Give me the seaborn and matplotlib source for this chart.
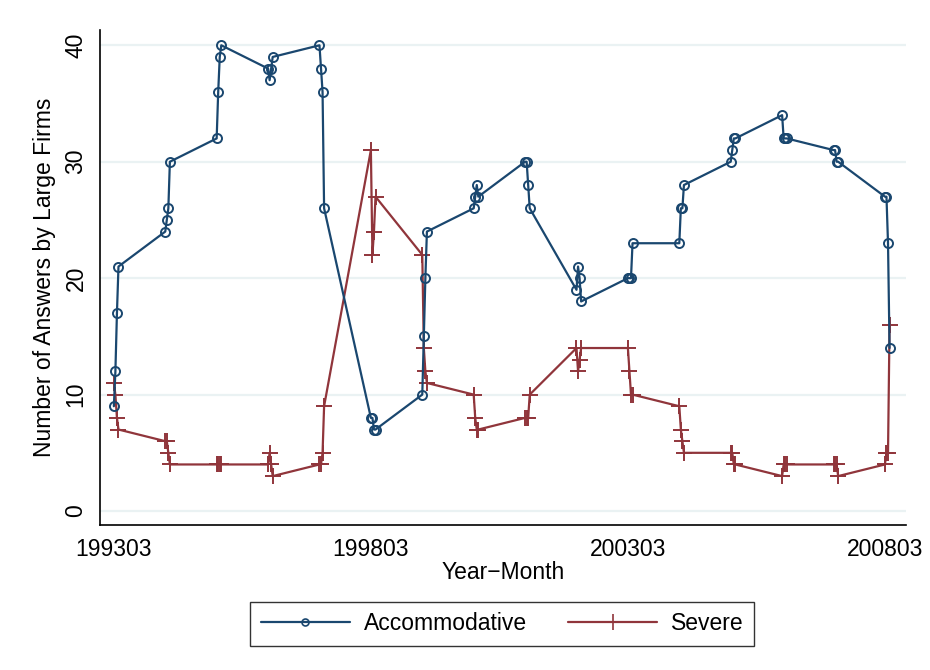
import numpy as np
import pandas as pd
import matplotlib
matplotlib.use('Agg')
import matplotlib.pyplot as plt
import seaborn as sns
from matplotlib.lines import Line2D

# survey months, quarterly 1993Q1 - 2008Q4 (yyyymm as plain numbers)
years = list(range(1993, 2009))
months = [3, 6, 9, 12]
yearmonth = [y * 100 + m for y in years for m in months]

accommodative = [9, 12, 17, 21,   24, 25, 26, 30,   32, 36, 39, 40,   38, 37, 38, 39,
                 40, 38, 36, 26,  8, 8, 7, 7,       10, 15, 20, 24,   26, 27, 28, 27,
                 30, 30, 28, 26,  19, 21, 20, 18,   20, 20, 20, 23,   23, 26, 26, 28,
                 30, 31, 32, 32,  34, 32, 32, 32,   31, 31, 30, 30,   27, 27, 23, 14]
severe = [11, 10, 8, 7,   6, 6, 5, 4,     4, 4, 4, 4,     4, 5, 4, 3,
          4, 4, 5, 9,     31, 22, 24, 27, 22, 14, 12, 11, 10, 8, 7, 7,
          8, 8, 8, 10,    14, 12, 13, 14, 14, 12, 10, 10, 9, 7, 6, 5,
          5, 5, 4, 4,     3, 4, 4, 4,     4, 4, 4, 3,     4, 5, 5, 16]

xticks = [199303, 199803, 200303, 200803]
yticks = [0, 10, 20, 30, 40]

df = pd.DataFrame({'ym': yearmonth, 'Accommodative': accommodative, 'Severe': severe})

sns.set_style('white')
plt.rcParams['font.family'] = ['Liberation Sans', 'DejaVu Sans']
plt.rcParams['text.color'] = 'black'
plt.rcParams['axes.labelcolor'] = 'black'
plt.rcParams['xtick.color'] = 'black'
plt.rcParams['ytick.color'] = 'black'

navy = '#1A476F'
maroon = '#90353B'
fs = 16.5

fig = plt.figure(figsize=(9.3, 6.7), dpi=100)
fig.patch.set_facecolor('white')
ax = fig.add_axes([0.1075, 0.2164, 0.8667, 0.7386])

for v in yticks:
    ax.axhline(v, color='#EAF2F3', lw=1.6, zorder=0)

sns.lineplot(data=df, x='ym', y='Accommodative', ax=ax, color=navy, lw=1.6,
             marker='o', markersize=6.5, markerfacecolor='none', markeredgecolor=navy,
             markeredgewidth=1.4, sort=False, zorder=3)
sns.lineplot(data=df, x='ym', y='Severe', ax=ax, color=maroon, lw=1.6,
             marker='+', markersize=11, markeredgecolor=maroon,
             markeredgewidth=1.4, sort=False, zorder=2)

ax.set_xlim(199276, 200844)
ax.set_ylim(-1.2, 41.3)
ax.set_xticks(xticks)
ax.set_xticklabels([str(t) for t in xticks], fontsize=fs)
ax.set_yticks(yticks)
ax.set_yticklabels([str(t) for t in yticks], fontsize=fs, rotation=90, va='center')
ax.tick_params(axis='both', direction='out', length=6, width=1, color='black',
               labelcolor='black', pad=3)
ax.set_xlabel('Year\u2212Month', fontsize=fs, labelpad=0, color='black')
ax.set_ylabel('Number of Answers by Large Firms', fontsize=fs, labelpad=6, color='black')

for s in ['top', 'right']:
    ax.spines[s].set_visible(False)
for s in ['left', 'bottom']:
    ax.spines[s].set_color('black')
    ax.spines[s].set_linewidth(1.2)

handles = [Line2D([0], [0], color=navy, lw=1.6, marker='o', markersize=5,
                  markerfacecolor='none', markeredgecolor=navy, markeredgewidth=1.2),
           Line2D([0], [0], color=maroon, lw=1.6, marker='+', markersize=11,
                  markeredgewidth=1.2)]
leg = fig.legend(handles, ['Accommodative', 'Severe'], loc='center',
                 bbox_to_anchor=(0.540, 0.0687), ncol=2, fontsize=fs,
                 frameon=True, fancybox=False, handlelength=3.9, columnspacing=1.8,
                 borderpad=0.45, handletextpad=0.6)
leg.get_frame().set_edgecolor('black')
leg.get_frame().set_linewidth(1.0)
for t in leg.get_texts():
    t.set_color('black')

plt.savefig('out.png', dpi=100)
